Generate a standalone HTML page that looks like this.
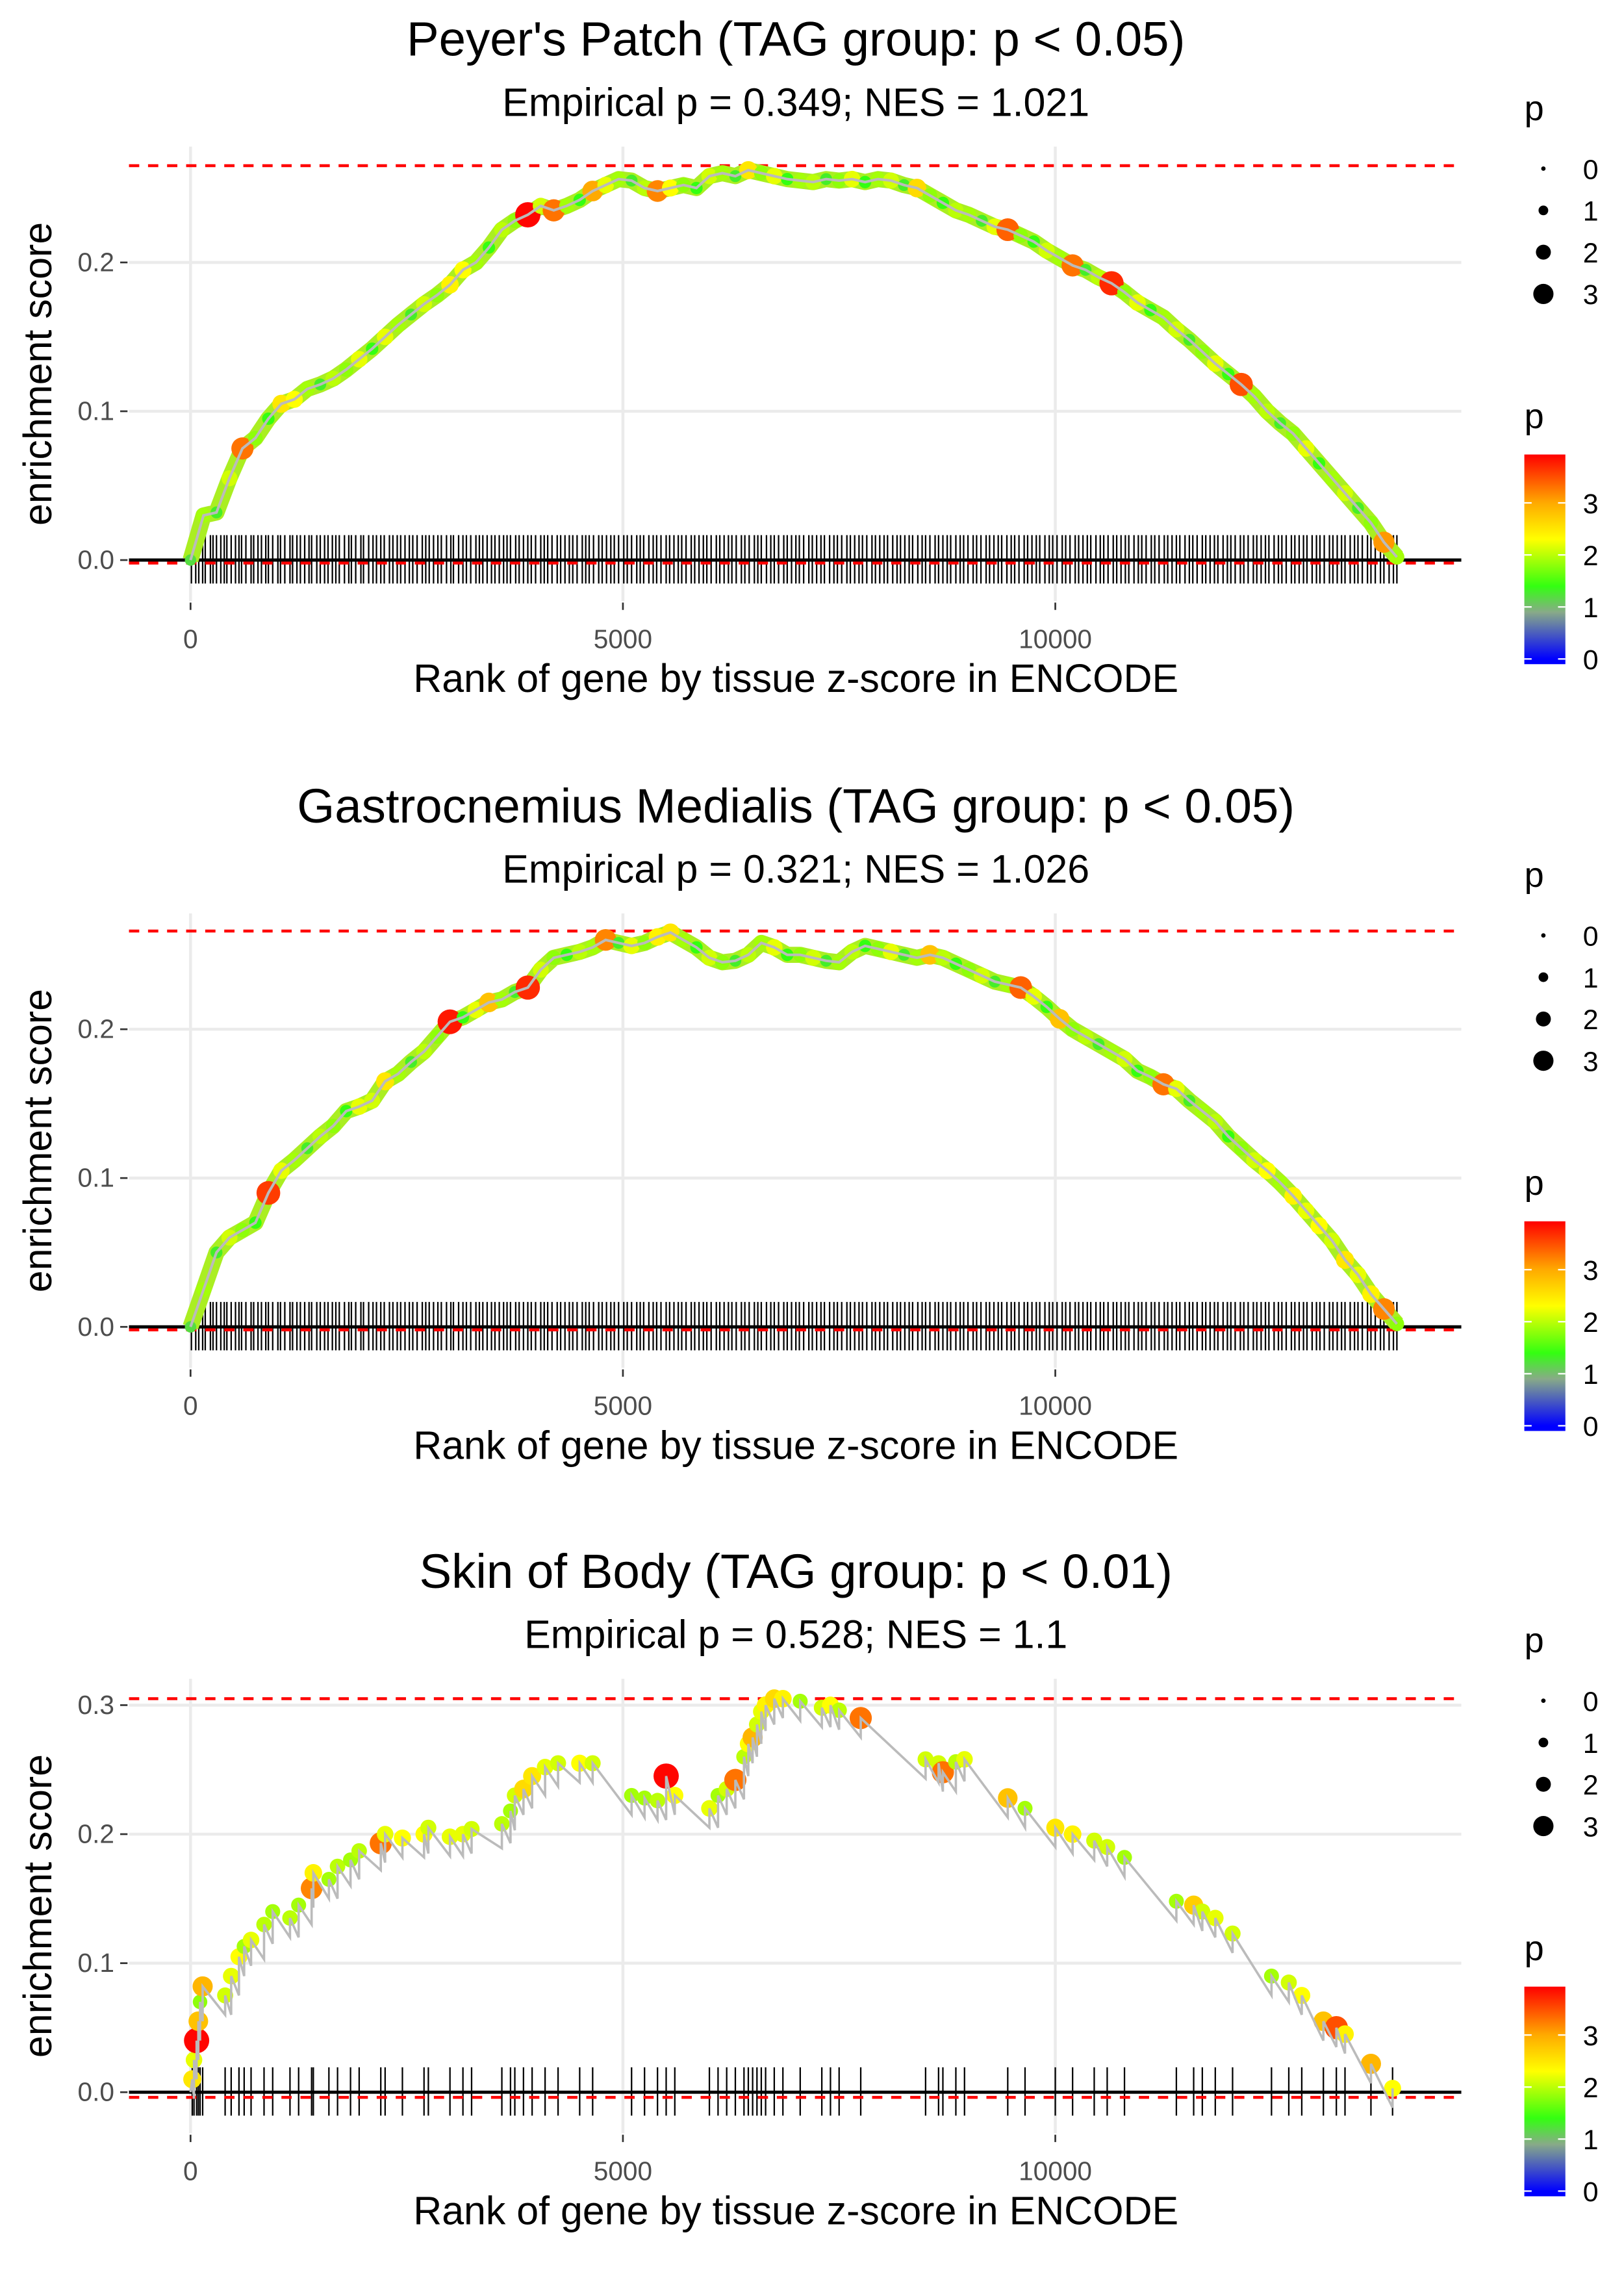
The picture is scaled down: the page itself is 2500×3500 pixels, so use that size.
<!DOCTYPE html>
<html><head><meta charset="utf-8"><style>
html,body{margin:0;padding:0;background:#fff}
svg{display:block}
text{font-family:"Liberation Sans",sans-serif}
</style></head><body>
<svg id="chart" width="2500" height="3500" viewBox="0 0 1108 1551" preserveAspectRatio="none" xmlns="http://www.w3.org/2000/svg"></svg>
<script>
const p1Ranks=[0,150,300,450,600,750,900,1050,1200,1350,1500,1650,1800,1950,2100,2250,2400,2550,2700,2850,3000,3150,3300,3450,3600,3750,3900,4050,4200,4350,4500,4650,4800,4950,5100,5250,5400,5550,5700,5850,6000,6150,6300,6450,6600,6750,6900,7050,7200,7350,7500,7650,7800,7950,8100,8250,8400,8550,8700,8850,9000,9150,9300,9450,9600,9750,9900,10050,10200,10350,10500,10650,10800,10950,11100,11250,11400,11550,11700,11850,12000,12150,12300,12450,12600,12750,12900,13050,13200,13350,13500,13650,13800,13950];
const p1ES=[0,0.03,0.032,0.055,0.075,0.082,0.095,0.105,0.108,0.115,0.118,0.122,0.128,0.135,0.142,0.15,0.158,0.165,0.172,0.178,0.185,0.195,0.2,0.21,0.222,0.228,0.232,0.238,0.235,0.238,0.242,0.248,0.252,0.256,0.255,0.25,0.248,0.25,0.252,0.25,0.258,0.26,0.258,0.262,0.26,0.258,0.256,0.255,0.254,0.256,0.255,0.256,0.254,0.256,0.255,0.252,0.25,0.245,0.24,0.235,0.232,0.228,0.224,0.222,0.218,0.214,0.208,0.203,0.198,0.195,0.19,0.186,0.18,0.173,0.168,0.163,0.155,0.148,0.14,0.132,0.125,0.118,0.11,0.1,0.092,0.085,0.075,0.065,0.055,0.045,0.035,0.025,0.012,0.002];
const p1P=[1.2,1.9,1.3,2.1,3.3,1.8,1.4,2.5,2.3,1.9,1.3,2.0,1.8,2.2,1.4,2.2,1.9,1.3,2.1,1.8,2.4,2.3,1.9,1.4,2.0,1.8,3.9,2.1,3.3,1.9,1.4,3.0,2.2,1.9,1.3,2.0,3.2,2.3,1.8,1.4,2.1,1.9,1.3,2.5,1.8,2.2,1.4,1.9,2.0,1.3,1.8,2.2,1.4,1.9,2.1,1.3,2.6,1.8,1.4,2.0,1.9,1.3,2.2,3.4,1.8,1.4,2.1,1.9,3.3,1.3,2.0,3.7,1.8,2.2,1.4,1.9,2.1,1.3,1.8,2.2,1.4,3.5,1.9,2.0,1.3,1.8,2.2,1.4,1.9,2.1,1.3,1.8,3.1,1.9];
const p2Ranks=p1Ranks.slice();
const p2ES=[0,0.025,0.05,0.06,0.065,0.07,0.09,0.105,0.112,0.12,0.128,0.135,0.145,0.148,0.152,0.165,0.17,0.178,0.185,0.195,0.205,0.208,0.213,0.218,0.22,0.225,0.228,0.24,0.248,0.25,0.252,0.255,0.26,0.258,0.256,0.258,0.262,0.265,0.26,0.255,0.248,0.245,0.246,0.25,0.258,0.255,0.25,0.25,0.248,0.246,0.245,0.252,0.256,0.254,0.252,0.25,0.248,0.25,0.248,0.244,0.24,0.236,0.232,0.23,0.228,0.222,0.215,0.207,0.2,0.195,0.19,0.185,0.18,0.172,0.168,0.163,0.16,0.152,0.145,0.138,0.128,0.12,0.112,0.105,0.097,0.088,0.078,0.068,0.058,0.045,0.035,0.022,0.012,0.002];
const p2P=[1.2,1.9,1.3,2.1,1.8,1.4,3.6,2.2,1.9,1.3,2.0,1.8,1.4,2.2,2.1,2.5,1.9,1.3,2.0,1.8,3.8,1.4,2.2,2.8,1.9,1.3,3.7,2.1,1.8,1.4,2.0,1.9,3.2,1.3,2.2,1.8,2.4,2.5,1.9,1.4,2.1,1.8,1.3,2.0,1.9,2.2,1.4,1.8,2.1,1.3,1.9,2.0,1.4,1.8,2.2,1.3,1.9,2.8,2.0,1.4,1.8,2.1,1.3,1.9,3.4,2.2,1.4,2.8,1.8,2.0,1.3,1.9,2.1,1.4,1.8,3.3,2.2,1.3,1.9,2.0,1.4,1.8,2.1,2.3,1.9,2.4,2.2,2.3,2.1,2.5,2.2,2.4,3.2,1.8];
const denseRug=[10,60,95,140,170,230,260,300,350,390,420,470,520,560,590,640,700,730,780,820,870,900,950,1010,1040,1090,1150,1180,1230,1270,1320,1370,1400,1460,1500,1550,1590,1640,1680,1720,1780,1830,1860,1910,1970,2000,2060,2110,2150,2200,2240,2300,2340,2390,2430,2480,2530,2570,2620,2680,2720,2760,2810,2860,2900,2960,3010,3040,3100,3150,3190,3240,3300,3340,3380,3430,3480,3520,3570,3620,3660,3700,3760,3800,3850,3900,3940,3990,4050,4090,4130,4180,4240,4280,4330,4380,4420,4470,4530,4570,4610,4660,4720,4760,4810,4860,4900,4950,5010,5050,5100,5160,5200,5240,5300,5350,5390,5440,5500,5540,5590,5640,5680,5730,5790,5830,5880,5930,5970,6020,6080,6120,6170,6220,6260,6310,6370,6410,6460,6520,6560,6600,6660,6710,6750,6800,6860,6900,6950,7000,7040,7090,7150,7190,7240,7290,7330,7390,7440,7480,7530,7590,7630,7680,7730,7770,7820,7880,7920,7970,8020,8060,8120,8170,8210,8260,8310,8350,8410,8460,8500,8550,8610,8650,8700,8750,8790,8850,8900,8940,8990,9050,9090,9140,9200,9240,9290,9340,9380,9440,9490,9530,9580,9640,9680,9730,9780,9820,9880,9930,9970,10020,10080,10120,10170,10230,10270,10320,10370,10410,10470,10520,10560,10610,10670,10710,10760,10810,10850,10910,10960,11000,11050,11110,11150,11200,11260,11300,11350,11400,11440,11500,11550,11590,11640,11700,11740,11790,11840,11880,11940,11990,12030,12080,12140,12180,12230,12290,12330,12380,12430,12470,12530,12580,12620,12670,12730,12770,12820,12870,12910,12970,13020,13060,13110,13170,13210,13260,13310,13350,13410,13460,13500,13550,13610,13650,13700,13760,13800,13860,13910,13950];
const p3Ranks=[20,40,70,90,110,140,400,470,560,620,700,850,950,1150,1250,1400,1420,1600,1700,1850,1950,2200,2250,2450,2700,2750,3000,3150,3250,3600,3700,3750,3850,3950,4100,4250,4500,4650,5100,5250,5400,5500,5600,6000,6100,6200,6300,6400,6450,6500,6550,6600,6650,6750,6850,7050,7300,7400,7500,7750,8500,8650,8700,8850,8950,9450,9650,10000,10200,10450,10600,10800,11400,11600,11700,11850,12050,12500,12700,12850,13100,13250,13350,13650,13900];
const p3ES=[0.01,0.025,0.04,0.055,0.07,0.082,0.075,0.09,0.105,0.113,0.118,0.13,0.14,0.135,0.145,0.158,0.17,0.165,0.175,0.18,0.187,0.193,0.2,0.197,0.2,0.205,0.198,0.2,0.204,0.208,0.218,0.23,0.235,0.245,0.252,0.255,0.255,0.255,0.23,0.228,0.226,0.245,0.23,0.22,0.23,0.235,0.242,0.26,0.27,0.275,0.285,0.295,0.3,0.305,0.305,0.303,0.298,0.3,0.296,0.29,0.258,0.255,0.248,0.256,0.258,0.228,0.22,0.205,0.2,0.195,0.19,0.182,0.148,0.145,0.14,0.135,0.123,0.09,0.085,0.075,0.055,0.05,0.045,0.022,0.003];
const p3P=[2.5,2.2,3.9,2.8,1.8,2.9,2.1,2.2,2.3,1.9,2.2,2.0,1.9,2.0,1.9,3.2,2.4,1.9,2.0,1.9,2.0,3.3,2.2,2.3,2.3,2.1,2.2,2.2,2.1,2.0,1.9,2.1,2.6,2.5,2.2,2.1,2.3,2.1,1.9,1.9,2.0,3.9,2.3,2.2,1.9,2.1,3.3,2.0,2.3,2.9,2.1,2.2,2.4,2.6,2.4,1.9,2.1,2.3,2.0,3.3,2.1,2.1,3.3,2.0,2.2,2.8,1.9,2.5,2.4,2.1,2.1,1.9,1.9,2.7,2.1,2.2,2.1,1.9,2.1,2.3,2.8,3.5,2.4,2.9,2.3];
const yTicks=[0,0.1,0.2,0.3];
const xTicks=[0,5000,10000];
const sizeLegend=[0,1,2,3];
const colorTicks=[0,1,2,3];

const NS="http://www.w3.org/2000/svg";
const svg=document.getElementById('chart');
function el(tag,attrs,parent){const e=document.createElementNS(NS,tag);for(const k in attrs)e.setAttribute(k,attrs[k]);(parent||svg).appendChild(e);return e;}
function txt(s,attrs,parent){const e=el('text',attrs,parent);e.textContent=s;return e;}
const stops=[[0,[0,0,255]],[0.9,[136,170,136]],[1.4,[51,255,17]],[2.3,[255,255,0]],[3.0,[255,170,0]],[3.93,[255,0,0]]];
function pcol(v){if(v<=stops[0][0])return 'rgb(0,0,255)';for(let i=1;i<stops.length;i++){if(v<=stops[i][0]){const a=stops[i-1],b=stops[i];const t=(v-a[0])/(b[0]-a[0]);const c=a[1].map((x,j)=>Math.round(x+(b[1][j]-x)*t));return `rgb(${c})`;}}return 'rgb(255,0,0)';}
function prad(v){return 1.8+1.75*v;}

const xScale=r=>130+r*0.059;
const panels=[
 {dy:0,title:"Peyer's Patch (TAG group: p < 0.05)",sub:"Empirical p = 0.349; NES = 1.021",y0:382,k:1015,ymax:0.265,ymin:-0.002,ticks:3,ranks:p1Ranks,es:p1ES,p:p1P,rug:denseRug,saw:false,top:100,bot:410,name:'peyers-patch'},
 {dy:523,title:"Gastrocnemius Medialis (TAG group: p < 0.05)",sub:"Empirical p = 0.321; NES = 1.026",y0:382,k:1015,ymax:0.266,ymin:-0.002,ticks:3,ranks:p2Ranks,es:p2ES,p:p2P,rug:denseRug,saw:false,top:100,bot:410,name:'gastrocnemius'},
 {dy:1045,title:"Skin of Body (TAG group: p < 0.01)",sub:"Empirical p = 0.528; NES = 1.1",y0:382,k:880,ymax:0.305,ymin:-0.004,ticks:4,ranks:p3Ranks,es:p3ES,p:p3P,rug:p3Ranks,saw:true,top:100,bot:410,name:'skin-of-body'}
];
panels.forEach(P=>{
 const g=el('g',{transform:`translate(0,${P.dy})`});
 
 
 const ys=v=>P.y0-v*P.k;
 const t1=txt(P.title,{x:543,y:38,'text-anchor':'middle','font-size':33},g);
 
 const t2=txt(P.sub,{x:543,y:79,'text-anchor':'middle','font-size':27},g);
 
 for(let i=0;i<P.ticks;i++){const v=yTicks[i];const y=ys(v);
  const gl=el('line',{x1:88,x2:997,y1:y,y2:y,stroke:'#ebebeb','stroke-width':2},g);
  
  el('line',{x1:82,x2:87,y1:y,y2:y,stroke:'#333','stroke-width':1.2},g);
  const tl=txt(v.toFixed(1),{x:78,y:y+6,'text-anchor':'end','font-size':18,fill:'#4d4d4d'},g);
  }
 xTicks.forEach(v=>{const x=xScale(v);
  const gl=el('line',{x1:x,x2:x,y1:P.top,y2:P.bot,stroke:'#ebebeb','stroke-width':2},g);
  
  el('line',{x1:x,x2:x,y1:P.bot+1,y2:P.bot+6,stroke:'#333','stroke-width':1.2},g);
  const tl=txt(String(v),{x:x,y:442,'text-anchor':'middle','font-size':18,fill:'#4d4d4d'},g);
  });
 const xl=txt('Rank of gene by tissue z-score in ENCODE',{x:543,y:472,'text-anchor':'middle','font-size':27},g);
 
 const yl=txt('enrichment score',{x:0,y:0,'text-anchor':'middle','font-size':27,transform:`translate(35,255) rotate(-90)`},g);
 
 P.rug.forEach(r=>{const x=xScale(r);
  const rl=el('line',{x1:x,x2:x,y1:P.y0-17,y2:P.y0+16,stroke:'#000','stroke-width':1},g);
  });
 const z=el('line',{x1:88,x2:997,y1:ys(0),y2:ys(0),stroke:'#000','stroke-width':2.2},g);
 
 [P.ymax,P.ymin].forEach(v=>{const d=el('line',{x1:88,x2:997,y1:ys(v),y2:ys(v),stroke:'#ff0000','stroke-width':2,'stroke-dasharray':'7,6'},g);
  });
 let pts=[];
 if(P.saw){pts.push([xScale(0),ys(0)]);
  for(let i=0;i<P.ranks.length;i++){
   if(i>0){pts.push([xScale(P.ranks[i]),ys(Math.min(P.es[i],P.es[i-1])-0.015)]);}
   pts.push([xScale(P.ranks[i]),ys(P.es[i])]);}
 } else {for(let i=0;i<P.ranks.length;i++)pts.push([xScale(P.ranks[i]),ys(P.es[i])]);}
 if(!P.saw){const band=el('polyline',{points:pts.map(q=>q.join(',')).join(' '),fill:'none',stroke:'#aaee22','stroke-width':11,'stroke-linejoin':'round'},g);
  }
 for(let i=0;i<P.ranks.length;i++){
  const c=el('circle',{cx:xScale(P.ranks[i]),cy:ys(P.es[i]),r:prad(P.p[i]),fill:pcol(P.p[i])},g);
  }
 const pl=el('polyline',{points:pts.map(q=>q.join(',')).join(' '),fill:'none',stroke:'#bbbbbb','stroke-width':P.saw?1.6:1.8},g);
 
 const lt=txt('p',{x:1040,y:82,'font-size':24},g);
 
 sizeLegend.forEach((v,i)=>{const y=115+i*28.5;
  const d=el('circle',{cx:1053,cy:y,r:1.5+1.8*v,fill:'#000'},g);
  
  const l=txt(String(v),{x:1080,y:y+7,'font-size':19},g);
  });
 const ct=txt('p',{x:1040,y:292,'font-size':24},g);
 
 const gid='grad'+P.dy;
 const defs=el('defs',{},g);const lg=el('linearGradient',{id:gid,x1:0,y1:1,x2:0,y2:0},defs);
 const vmin=-0.1,vmax=3.93;
 stops.forEach(s=>el('stop',{offset:((s[0]-vmin)/(vmax-vmin)).toFixed(3),'stop-color':pcol(s[0])},lg));
 const bar=el('rect',{x:1040,y:310,width:28,height:143,fill:`url(#${gid})`},g);
 
 colorTicks.forEach(v=>{const y=453-(v-vmin)/(vmax-vmin)*143;
  el('line',{x1:1040,x2:1045,y1:y,y2:y,stroke:'#fff','stroke-width':1},g);
  el('line',{x1:1063,x2:1068,y1:y,y2:y,stroke:'#fff','stroke-width':1},g);
  const l=txt(String(v),{x:1080,y:y+7,'font-size':19},g);
  });
});
</script>
</body></html>
